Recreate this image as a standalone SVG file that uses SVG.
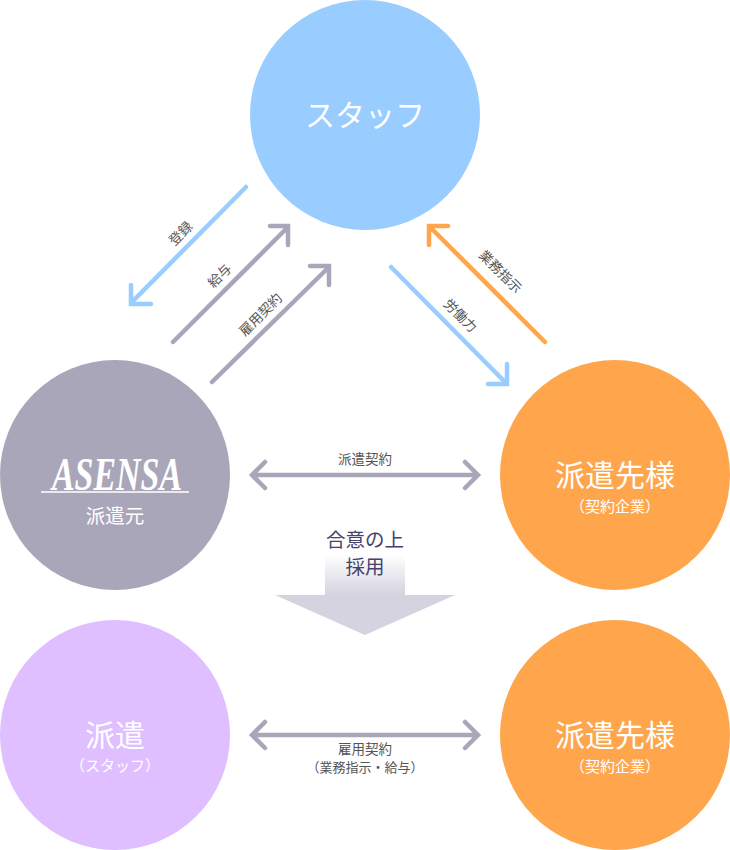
<svg xmlns="http://www.w3.org/2000/svg" width="730" height="850" viewBox="0 0 730 850">
<style>
text{font-family:"Noto Sans CJK JP","Noto Sans",sans-serif;text-anchor:middle}
.w{fill:#fff}.t1{font-size:30px}.t2{font-size:15px}.t3{font-size:19.5px}
.l{font-size:13.5px;fill:#555}
.c{fill:none;stroke-width:4.5;stroke-linecap:round;stroke-linejoin:miter}
.b{stroke:#99ccff}.g{stroke:#a9a6ba}.o{stroke:#ffa64d}
text.logo{font-family:"Liberation Serif",serif;font-weight:700;font-style:italic;fill:#fff;font-size:46px}
</style>
<defs><linearGradient id="fade" x1="0" y1="0" x2="0" y2="1"><stop offset="0" stop-color="#d4d3df" stop-opacity="0"/><stop offset="1" stop-color="#d4d3df"/></linearGradient></defs>
<g id="connectors">
<path class="c b" d="M246 187L131 303M131 285V304H151"/>
<path class="c g" d="M173 342L288 227M270 226H288V245"/>
<path class="c g" d="M212 382L329 267M310 266H329V285"/>
<path class="c o" d="M545 342L430 227M448 226H429V245"/>
<path class="c b" d="M391 267L506 383M507 364V384H488"/>
<path class="c g" d="M253 475H477M265 462L252 475L265 488M465 462L478 475L465 488"/>
<path class="c g" d="M253 735H477M265 722L252 735L265 748M465 722L478 735L465 748"/>
</g>
<g id="labels">
<text class="l" transform="translate(184 237) rotate(-45)">登録</text>
<text class="l" transform="translate(223 279) rotate(-45)">給与</text>
<text class="l" transform="translate(264 318) rotate(-45)">雇用契約</text>
<text class="l" transform="translate(497 275) rotate(45)">業務指示</text>
<text class="l" transform="translate(457 319) rotate(45)">労働力</text>
<text class="l" x="365" y="464">派遣契約</text>
<text class="l"><tspan x="365" y="754">雇用契約</tspan><tspan x="365" y="772" style="font-size:13px">（業務指示・給与）</tspan></text>
</g>
<g id="adoption-arrow">
<rect x="325" y="555" width="80" height="40" fill="url(#fade)"/>
<polygon points="275,595 455,595 365,635" fill="#d4d3df"/>
<text font-size="19.5" fill="#46426e"><tspan x="365" y="547">合意の上</tspan><tspan x="365" y="574">採用</tspan></text>
</g>
<g id="staff"><circle cx="365" cy="115" r="115" fill="#99ccff"/><text class="w t1" x="365" y="126">スタッフ</text></g>
<g id="haken-moto"><circle cx="115" cy="475" r="115" fill="#a9a6ba"/>
<path d="M41 492H189" stroke="#fff" stroke-width="1.5" fill="none"/>
<text class="logo" x="117" y="490" textLength="130" lengthAdjust="spacingAndGlyphs">ASENSA</text>
<text class="w t3" x="115" y="523">派遣元</text></g>
<g id="client-top"><circle cx="615" cy="475" r="115" fill="#ffa64d"/><text class="w t1" x="615" y="486">派遣先様</text><text class="w t2" x="615" y="512">（契約企業）</text></g>
<g id="haken"><circle cx="115" cy="735" r="115" fill="#dfbfff"/><text class="w t1" x="115" y="746">派遣</text><text class="w t2" x="115" y="771">（スタッフ）</text></g>
<g id="client-bottom"><circle cx="615" cy="735" r="115" fill="#ffa64d"/><text class="w t1" x="615" y="746">派遣先様</text><text class="w t2" x="615" y="772">（契約企業）</text></g>
</svg>
